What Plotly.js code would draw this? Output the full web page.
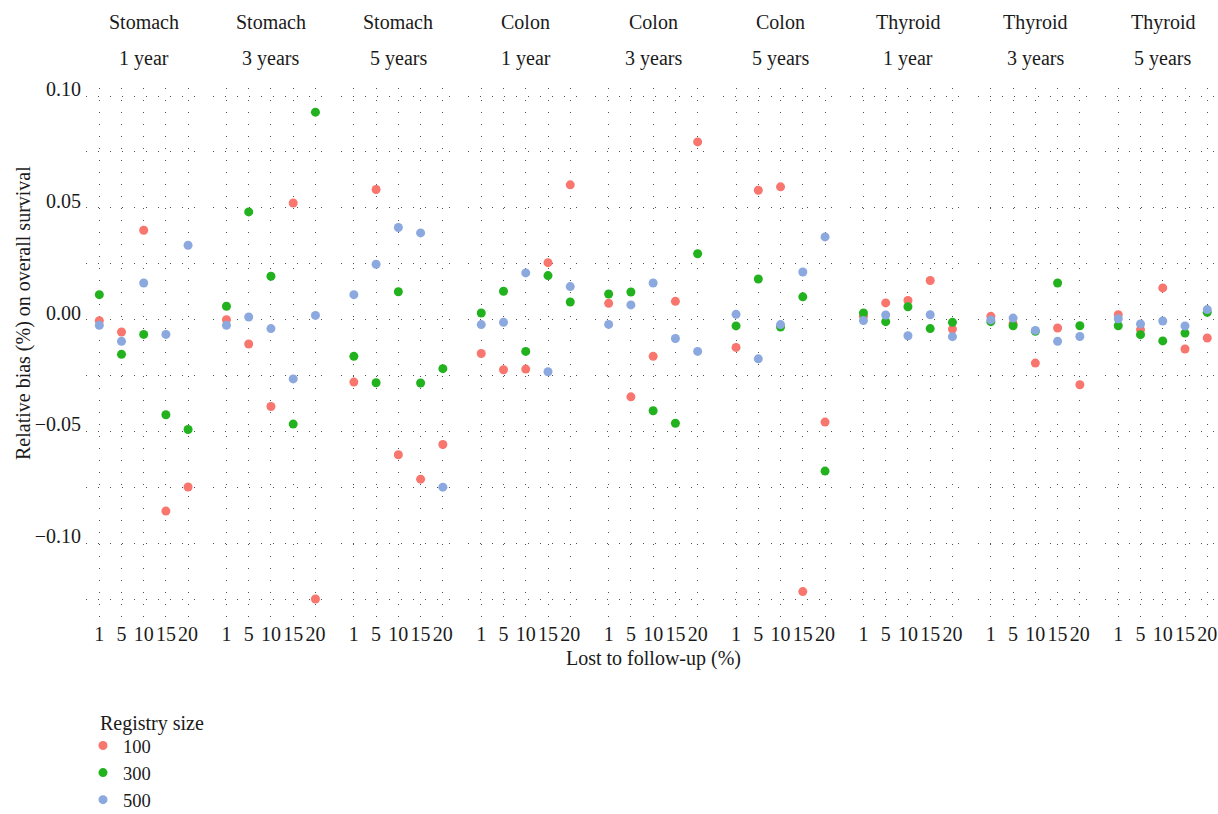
<!DOCTYPE html>
<html>
<head>
<meta charset="utf-8">
<script src="https://cdn.plot.ly/plotly-3.0.1.min.js"></script>
<style>
  html, body { margin: 0; padding: 0; background: #ffffff; }
  #chart { width: 1218px; height: 814px; }
</style>
</head>
<body>
<div id="chart"></div>
<script>
// Lost-to-follow-up levels (%), shown as evenly spaced categories in each panel
const lossLevels = ['1', '5', '10', '15', '20'];

// Facet panels: cancer site and survival horizon
const panelSite = ['Stomach', 'Stomach', 'Stomach', 'Colon', 'Colon', 'Colon', 'Thyroid', 'Thyroid', 'Thyroid'];
const panelHorizon = ['1 year', '3 years', '5 years', '1 year', '3 years', '5 years', '1 year', '3 years', '5 years'];

// Registry sizes (legend entries) and their colours
const registrySizes = ['100', '300', '500'];
const registryColors = ['#F8766D', '#22B21E', '#8BA8DF'];

// Relative bias on overall survival, one row per panel, one value per loss level
const bias100 = [
  [-0.0005, -0.0055, 0.0400, -0.0856, -0.0748],
  [0.0000, -0.0109, -0.0388, 0.0522, -0.1249],
  [-0.0279, 0.0582, -0.0604, -0.0713, -0.0558],
  [-0.0151, -0.0224, -0.0221, 0.0255, 0.0603],
  [0.0073, -0.0345, -0.0164, 0.0082, 0.0795],
  [-0.0124, 0.0579, 0.0594, -0.1216, -0.0458],
  [0.0015, 0.0075, 0.0086, 0.0175, -0.0042],
  [0.0015, -0.0018, -0.0194, -0.0037, -0.0291],
  [0.0022, -0.0045, 0.0142, -0.0131, -0.0082]
];
const bias300 = [
  [0.0112, -0.0155, -0.0066, -0.0425, -0.0491],
  [0.0060, 0.0482, 0.0194, -0.0467, 0.0928],
  [-0.0164, -0.0282, 0.0125, -0.0283, -0.0219],
  [0.0030, 0.0127, -0.0142, 0.0197, 0.0079],
  [0.0115, 0.0124, -0.0407, -0.0463, 0.0295],
  [-0.0028, 0.0182, -0.0033, 0.0102, -0.0677],
  [0.0030, -0.0009, 0.0058, -0.0040, -0.0012],
  [-0.0009, -0.0027, -0.0052, 0.0164, -0.0027],
  [-0.0027, -0.0067, -0.0095, -0.0060, 0.0033]
];
const bias500 = [
  [-0.0025, -0.0097, 0.0164, -0.0066, 0.0333],
  [-0.0025, 0.0012, -0.0040, -0.0265, 0.0019],
  [0.0112, 0.0248, 0.0412, 0.0388, -0.0749],
  [-0.0022, -0.0012, 0.0209, -0.0233, 0.0148],
  [-0.0021, 0.0066, 0.0164, -0.0084, -0.0142],
  [0.0024, -0.0175, -0.0022, 0.0213, 0.0370],
  [-0.0004, 0.0021, -0.0072, 0.0022, -0.0076],
  [-0.0001, 0.0007, -0.0048, -0.0097, -0.0075],
  [0.0004, -0.0019, -0.0006, -0.0028, 0.0045]
];

const biasBySize = [bias100, bias300, bias500];

// ---- geometry (pixels) ----
const W = 1218, H = 814;
const M = { l: 86, r: 0, t: 88, b: 196, autoexpand: false };
const plotW = W - M.l - M.r;
const plotH = H - M.t - M.b;
const unit = 22.25;             // pixels per category step
const pad = 0.6;                // discrete-axis expansion on each side
const panelW = (lossLevels.length - 1 + 2 * pad) * unit;
const panelStep = 127.4;
const firstLeft = 85.7;

const FONT = 'Liberation Serif, Times New Roman, serif';
const INK = '#1a1a1a';
const GRID = 'rgba(70,70,70,0.95)';
const DASH = '1px,11px';

const px2x = p => (p - M.l) / plotW;
const px2y = p => (H - M.b - p) / plotH;

const traces = [];
registrySizes.forEach((size, s) => {
  panelSite.forEach((site, i) => {
    traces.push({
      type: 'scatter',
      mode: 'markers',
      x: lossLevels,
      y: biasBySize[s][i],
      xaxis: i === 0 ? 'x' : 'x' + (i + 1),
      yaxis: 'y',
      name: size,
      showlegend: i === 0,
      marker: { color: registryColors[s], size: 9, line: { width: 0 } },
      hoverinfo: 'x+y+name'
    });
  });
});

const layout = {
  width: W,
  height: H,
  margin: M,
  paper_bgcolor: '#ffffff',
  plot_bgcolor: '#ffffff',
  font: { family: FONT, size: 20, color: INK },
  showlegend: true,
  legend: {
    font: { family: FONT, size: 18.5, color: INK },
    orientation: 'v',
    xref: 'container', yref: 'container',
    x: 83 / W, y: 1 - 727 / H,
    xanchor: 'left', yanchor: 'top',
    bgcolor: 'rgba(0,0,0,0)',
    itemwidth: 30,
    tracegroupgap: 0
  },
  yaxis: {
    anchor: 'x',
    range: [-0.1334, 0.1036],
    tickmode: 'linear',
    tick0: 0,
    dtick: 0.05,
    tickformat: '.2f',
    ticks: '',
    ticklabelshift: -7,
    ticklabelstandoff: 4,
    tickfont: { family: FONT, size: 20, color: INK },
    showgrid: true,
    gridcolor: GRID,
    gridwidth: 1,
    griddash: DASH,
    minor: { dtick: 0.025, tick0: 0, showgrid: true, gridcolor: GRID, gridwidth: 1, griddash: DASH, ticks: '' },
    zeroline: false,
    showline: false,
    fixedrange: true
  },
  annotations: [],
  hovermode: 'closest'
};

panelSite.forEach((site, i) => {
  const left = firstLeft + i * panelStep;
  const right = Math.min(W - M.r, left + panelW);
  const key = i === 0 ? 'xaxis' : 'xaxis' + (i + 1);
  const ref = i === 0 ? 'x' : 'x' + (i + 1);
  layout[key] = {
    type: 'category',
    categoryorder: 'array',
    categoryarray: lossLevels,
    domain: [Math.max(0, px2x(left)), Math.min(1, px2x(right))],
    range: [-pad, -pad + (right - left) / unit],
    anchor: 'y',
    tickmode: 'array',
    tickvals: lossLevels,
    ticktext: lossLevels,
    ticks: '',
    tickangle: 0,
    ticklabelstandoff: 2,
    tickfont: { family: FONT, size: 20, color: INK },
    showgrid: true,
    gridcolor: GRID,
    gridwidth: 1,
    griddash: DASH,
    zeroline: false,
    showline: false,
    fixedrange: true
  };
  // two-line strip label above each panel
  layout.annotations.push({
    xref: ref, yref: 'paper', x: 2, y: px2y(22),
    text: site, showarrow: false, xanchor: 'center', yanchor: 'middle',
    font: { family: FONT, size: 20, color: INK }
  });
  layout.annotations.push({
    xref: ref, yref: 'paper', x: 2, y: px2y(59),
    text: panelHorizon[i], showarrow: false, xanchor: 'center', yanchor: 'middle',
    font: { family: FONT, size: 20, color: INK }
  });
});

// axis titles
layout.annotations.push({
  xref: 'paper', yref: 'paper', x: px2x(653), y: px2y(658),
  text: 'Lost to follow-up (%)', showarrow: false, xanchor: 'center', yanchor: 'middle',
  font: { family: FONT, size: 20, color: INK }
});
layout.annotations.push({
  xref: 'paper', yref: 'paper', x: px2x(23), y: px2y(313),
  text: 'Relative bias (%) on overall survival', textangle: -90, showarrow: false,
  xanchor: 'center', yanchor: 'middle',
  font: { family: FONT, size: 20, color: INK }
});
// legend heading
layout.annotations.push({
  xref: 'paper', yref: 'paper', x: px2x(98), y: px2y(723),
  text: 'Registry size', showarrow: false, xanchor: 'left', yanchor: 'middle',
  font: { family: FONT, size: 20, color: INK }
});

Plotly.newPlot('chart', traces, layout, { displayModeBar: false, staticPlot: false });
</script>
</body>
</html>
